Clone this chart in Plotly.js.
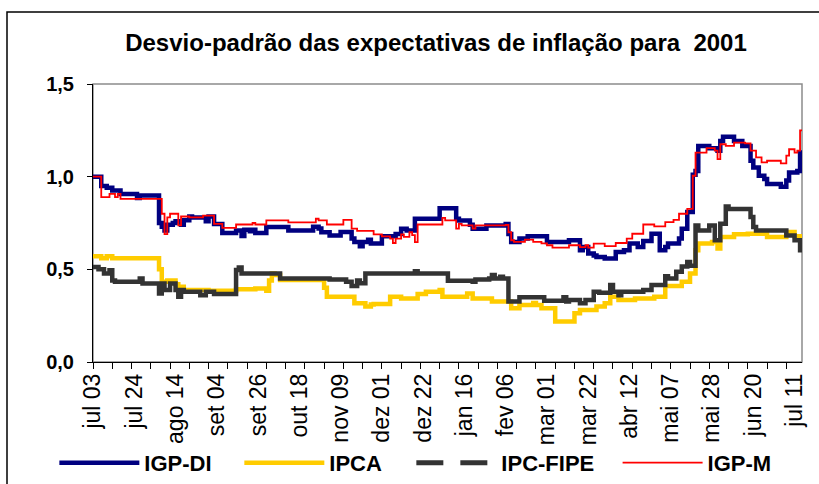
<!DOCTYPE html>
<html><head><meta charset="utf-8">
<script src="https://cdn.plot.ly/plotly-3.0.1.min.js"></script>
<style>html,body{margin:0;padding:0;background:#fff}#chart{width:819px;height:484px}</style>
</head><body><div id="chart"></div>
<script>
// business-day index (0 = jul 03 2000) where each series changes, and its value
const igpdiIdx = [0,3,5,7,10,16,17,24,25,26,27,29,30,32,33,35,36,41,42,44,47,52,54,55,57,58,59,63,71,80,82,83,86,90,94,95,97,98,100,101,105,110,112,114,117,126,132,133,137,138,143,150,151,152,155,158,165,173,177,178,180,182,183,186,190,193,195,198,200,203,206,208,209,213,214,216,218,219,220,224,227,228,229,233,236,239,240,242,244,245,250,252,253,256,257,258];
const igpdiVal = [1.00,0.95,0.94,0.925,0.907,0.885,0.898,0.75,0.73,0.71,0.74,0.75,0.76,0.74,0.765,0.785,0.78,0.76,0.785,0.745,0.696,0.71,0.68,0.714,0.705,0.714,0.696,0.728,0.71,0.73,0.72,0.70,0.683,0.701,0.666,0.648,0.624,0.648,0.66,0.639,0.678,0.69,0.719,0.71,0.773,0.83,0.773,0.764,0.74,0.719,0.737,0.745,0.69,0.648,0.666,0.678,0.648,0.657,0.603,0.62,0.585,0.575,0.567,0.558,0.594,0.603,0.639,0.62,0.653,0.692,0.603,0.62,0.639,0.666,0.719,0.81,1.01,1.03,1.166,1.154,1.14,1.193,1.215,1.193,1.166,1.086,1.05,1.005,0.987,0.961,0.946,0.979,1.023,1.03,1.13,1.13];

const ipcaIdx = [0,3,5,7,24,25,27,30,31,33,42,52,59,63,64,65,66,68,84,85,95,99,101,102,108,112,118,121,126,127,136,138,145,152,155,160,161,163,168,175,177,183,186,188,191,197,204,208,214,217,219,220,225,227,228,233,238,245,252,255,257,258];
const ipcaVal = [0.57,0.56,0.57,0.56,0.50,0.433,0.44,0.42,0.406,0.388,0.385,0.392,0.397,0.385,0.44,0.478,0.47,0.442,0.40,0.352,0.317,0.299,0.31,0.313,0.352,0.343,0.367,0.379,0.388,0.352,0.37,0.343,0.326,0.29,0.308,0.318,0.308,0.29,0.218,0.263,0.281,0.299,0.317,0.352,0.335,0.343,0.352,0.41,0.433,0.478,0.603,0.639,0.648,0.612,0.674,0.689,0.692,0.674,0.701,0.678,0.666,0.666];

const ipcfipeIdx = [0,2,4,6,7,8,17,18,24,25,26,28,30,31,32,33,39,41,44,52,53,54,68,86,92,94,96,97,99,117,118,129,138,139,144,145,146,148,149,151,155,164,171,172,173,177,179,182,184,188,189,191,192,200,203,208,209,212,214,216,217,219,220,224,226,228,230,231,239,240,241,252,255,257,258];
const ipcfipeVal = [0.513,0.50,0.478,0.495,0.44,0.433,0.45,0.424,0.37,0.424,0.388,0.424,0.388,0.352,0.388,0.379,0.36,0.379,0.367,0.496,0.51,0.478,0.451,0.445,0.433,0.41,0.44,0.425,0.478,0.49,0.478,0.438,0.433,0.445,0.451,0.47,0.451,0.46,0.451,0.326,0.349,0.331,0.349,0.326,0.335,0.317,0.335,0.379,0.374,0.415,0.379,0.36,0.379,0.388,0.415,0.463,0.45,0.487,0.515,0.54,0.52,0.737,0.71,0.737,0.657,0.746,0.839,0.826,0.782,0.728,0.71,0.683,0.657,0.603,0.60];

const igpmIdx = [0,3,6,8,9,10,25,26,27,28,31,32,35,40,44,47,52,58,59,63,71,81,82,85,91,94,96,102,105,108,109,110,112,113,115,116,117,118,127,128,132,133,134,138,139,150,151,152,153,157,160,163,165,167,173,177,179,180,182,186,190,194,196,200,204,208,211,213,216,218,219,223,226,227,228,230,233,237,239,241,243,245,250,252,253,255,256,257,258];
const igpmVal = [1.0,0.89,0.907,0.89,0.907,0.88,0.80,0.69,0.78,0.80,0.737,0.785,0.78,0.79,0.745,0.724,0.742,0.75,0.742,0.764,0.753,0.773,0.764,0.742,0.767,0.72,0.707,0.689,0.678,0.666,0.642,0.666,0.689,0.675,0.70,0.685,0.647,0.742,0.778,0.764,0.72,0.745,0.737,0.72,0.737,0.74,0.70,0.657,0.648,0.66,0.648,0.64,0.63,0.617,0.63,0.62,0.63,0.617,0.639,0.625,0.642,0.666,0.692,0.742,0.732,0.755,0.767,0.8,0.826,1.005,1.13,1.154,1.14,1.095,1.175,1.166,1.184,1.18,1.14,1.104,1.077,1.086,1.072,1.113,1.148,1.13,1.14,1.25,1.25];

const tickMarkPos = [0,7,14,21,28,35,42,49,56,63,70,77,84,91,98,105,112,119,126,133,140,147,154,161,168,175,182,189,196,203,210,217,224,231,238,245,252];
const labelPos = [0,15,30,45,60,75,90,105,120,135,150,165,180,195,210,225,240,255];
const labelText = ['jul 03','jul 24','ago 14','set 04','set 26','out 18','nov 09','dez 01','dez 22','jan 16','fev 06','mar 01','mar 22','abr 12','mai 07','mai 28','jun 20','jul 11'];
const yTickVals = [0,0.5,1.0,1.5];
const yTickText = ['0,0','0,5','1,0','1,5'];

const FONT = 'Liberation Sans, Arial, sans-serif';
const XR = [0, 257.7];
const NB = '\u00a0';

const traces = [
  {x: igpdiIdx, y: igpdiVal, name: 'IGP-DI' + NB.repeat(3) + '\u2009', mode: 'lines', line: {color: '#000080', width: 4.5, shape: 'hv'}, xaxis: 'x', yaxis: 'y'},
  {x: ipcaIdx, y: ipcaVal, name: 'IPCA' + NB.repeat(4), mode: 'lines', line: {color: '#FFCC00', width: 4.5, shape: 'hv'}, xaxis: 'x', yaxis: 'y'},
  {x: ipcfipeIdx, y: ipcfipeVal, name: 'IPC-FIPE', mode: 'lines', line: {color: '#333333', width: 4.5, shape: 'hv'}, showlegend: false, xaxis: 'x', yaxis: 'y'},
  {x: [null], y: [null], name: 'IPC-FIPE' + NB.repeat(3), mode: 'lines', line: {color: '#333333', width: 5, dash: '27px,17px'}, xaxis: 'x', yaxis: 'y'},
  {x: igpmIdx, y: igpmVal, name: 'IGP-M', mode: 'lines', line: {color: '#FF0000', width: 1.8, shape: 'hv'}, xaxis: 'x2', yaxis: 'y'}
];

const layout = {
  width: 819, height: 484,
  margin: {l: 93, r: 17, t: 84, b: 122, autoexpand: false},
  paper_bgcolor: '#fff', plot_bgcolor: '#fff',
  font: {family: FONT, color: '#000'},
  title: {text: 'Desvio-padrão das expectativas de inflação para \u00a02001', font: {family: FONT, size: 24, weight: 'bold', color: '#000'},
          x: 436/819, xref: 'container', xanchor: 'center', y: 1 - 43/484, yref: 'container', yanchor: 'middle'},
  xaxis: {range: XR, tickmode: 'array', tickvals: tickMarkPos, ticktext: tickMarkPos.map(() => ''), showticklabels: false,
          ticks: 'outside', ticklen: 6, tickcolor: '#000', tickwidth: 1, showline: true, linecolor: '#000', linewidth: 1,
          showgrid: false, zeroline: false, fixedrange: true, automargin: false},
  xaxis2: {range: XR, overlaying: 'x', anchor: 'y', side: 'bottom', tickmode: 'array', tickvals: labelPos, ticktext: labelText,
           ticks: '', tickangle: -90, ticklabelstandoff: 6, tickfont: {family: FONT, size: 23, color: '#000'},
           showline: false, showgrid: false, zeroline: false, fixedrange: true, automargin: false},
  yaxis: {range: [0, 1.5], tickmode: 'array', tickvals: yTickVals, ticktext: yTickText, ticks: 'outside', ticklen: 5,
          tickcolor: '#000', showline: true, linecolor: '#000', linewidth: 1, showgrid: false, zeroline: false, automargin: false,
          ticklabelstandoff: 9, tickfont: {family: FONT, size: 20, weight: 'bold', color: '#000'}, fixedrange: true},
  legend: {orientation: 'h', x: -0.0545, xanchor: 'left', y: -0.363, yanchor: 'middle', itemwidth: 80,
           font: {family: FONT, size: 22, weight: 'bold', color: '#000'}, bgcolor: 'rgba(0,0,0,0)', traceorder: 'normal'},
  shapes: [
    {type: 'rect', xref: 'paper', yref: 'paper', x0: 0, x1: 1, y0: 0, y1: 1, line: {color: '#8c8c8c', width: 1.5}, layer: 'below'},
    {type: 'rect', xref: 'paper', yref: 'paper', x0: (7 - 93) / 709, x1: 2, y0: -2, y1: (362 - 12) / 278, line: {color: '#000', width: 1.5}}
  ],
  showlegend: true
};

Plotly.newPlot('chart', traces, layout, {staticPlot: true, displayModeBar: false});
</script>
</body></html>
